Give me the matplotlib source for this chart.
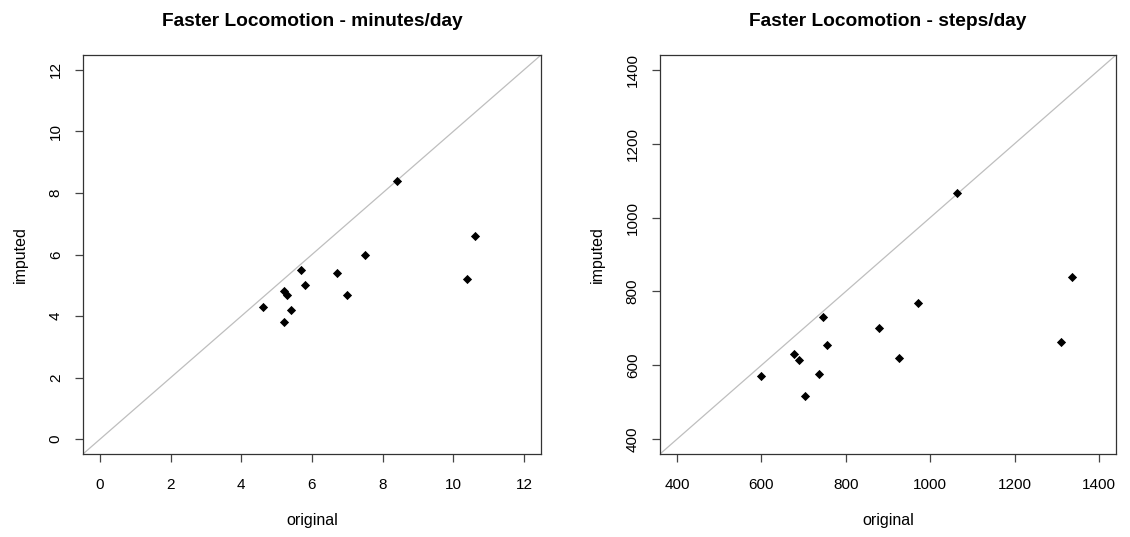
import matplotlib
matplotlib.use("Agg")
import matplotlib.pyplot as plt

plt.rcParams["font.family"] = ["Liberation Sans", "DejaVu Sans"]

# minutes/day: original vs imputed
min_original = [8.4, 10.6, 7.5, 10.4, 5.7, 6.7, 5.8, 5.2, 5.3, 7.0, 4.6, 5.4, 5.2]
min_imputed = [8.4, 6.6, 6.0, 5.2, 5.5, 5.4, 5.0, 4.8, 4.7, 4.7, 4.3, 4.2, 3.8]
min_ticks = [0, 2, 4, 6, 8, 10, 12]

# steps/day: original vs imputed
steps_original = [1063, 1336, 970, 1310, 745, 878, 755, 678, 690, 926, 600, 737, 703]
steps_imputed = [1066, 840, 769, 663, 730, 701, 656, 632, 615, 620, 570, 577, 516]
steps_ticks = [400, 600, 800, 1000, 1200, 1400]

titles = ["Faster Locomotion - minutes/day", "Faster Locomotion - steps/day"]


def r_style_panel(ax, xs, ys, ticks, title):
    lo, hi = ticks[0], ticks[-1]
    pad = (hi - lo) * 0.04
    ax.set_xlim(lo - pad, hi + pad)
    ax.set_ylim(lo - pad, hi + pad)
    ax.plot([lo - pad, hi + pad], [lo - pad, hi + pad], color="#bebebe", lw=0.9, zorder=1)
    ax.scatter(xs, ys, marker="D", s=22, color="black", linewidths=0, zorder=3)
    ax.set_xticks(ticks)
    ax.set_yticks(ticks)
    ax.set_yticklabels([str(t) for t in ticks], rotation=90, va="center")
    ax.tick_params(direction="out", length=6, width=0.9, labelsize=11,
                   color="#444444")
    ax.tick_params(axis="x", pad=11.5)
    ax.tick_params(axis="y", pad=8.5)
    for sp in ax.spines.values():
        sp.set_linewidth(0.9)
        sp.set_color("#333333")
    ax.set_xlabel("original", fontsize=11.5, labelpad=15)
    ax.set_ylabel("imputed", fontsize=11.5, labelpad=15)
    ax.set_title(title, fontsize=13.8, fontweight="bold", pad=21)


fig = plt.figure(figsize=(11.3, 5.37), dpi=100)
ax1 = fig.add_axes([83 / 1130, 1 - 454 / 537, (541 - 83) / 1130, (454 - 55) / 537])
ax2 = fig.add_axes([660 / 1130, 1 - 454 / 537, (1116 - 660) / 1130, (454 - 55) / 537])

r_style_panel(ax1, min_original, min_imputed, min_ticks, titles[0])
r_style_panel(ax2, steps_original, steps_imputed, steps_ticks, titles[1])

fig.savefig("out.png", dpi=100, facecolor="white")
